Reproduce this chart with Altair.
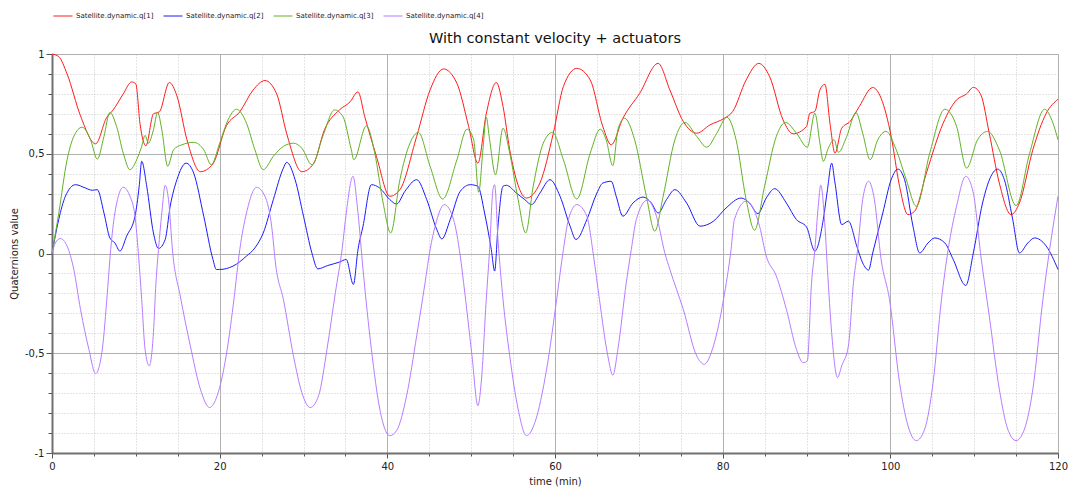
import altair as alt
import pandas as pd

series_names = ["Satellite.dynamic.q[1]", "Satellite.dynamic.q[2]",
                "Satellite.dynamic.q[3]", "Satellite.dynamic.q[4]"]
series_colors = ["#ff1a1a", "#1a1aff", "#62b224", "#b77cff"]

q1_t = [0, 0.8, 1.8, 3.4, 5.2, 6.5, 7.3, 8.5, 9.5, 10.0, 10.5, 11.2, 12.1, 12.8, 14.0, 14.9,
        16.1, 17.7, 19.2, 20.8, 22.4, 24.0, 25.4, 26.8, 28.0, 29.8, 31.2, 32.5, 34.3, 35.55,
        36.5, 37.3, 38.7, 40.3, 41.5, 43.5, 45.1, 46.7, 48.3, 49.7, 50.8, 51.8, 53.0, 53.8,
        54.6, 56.6, 58.2, 59.8, 61.0, 62.6, 64.2, 65.7, 66.7, 68.1, 70.1, 72.3, 73.7, 75.3,
        76.9, 78.5, 80.2, 81.2, 82.8, 84.3, 85.6, 87.2, 88.4, 90.0, 90.4, 91.0, 91.6, 92.2,
        92.8, 93.4, 94.2, 95.2, 96.3, 97.9, 98.9, 100.1, 101.1, 102.1, 102.9, 104.3, 106.3,
        107.9, 109.1, 109.9, 110.8, 111.8, 113.0, 114.4, 115.4, 117.0, 118.6, 120.0]
q1_v = [1.0, 0.987, 0.90, 0.69, 0.55, 0.68, 0.72, 0.80, 0.86, 0.85, 0.65, 0.54, 0.70, 0.71,
        0.857, 0.79, 0.57, 0.41, 0.45, 0.64, 0.71, 0.82, 0.867, 0.80, 0.60, 0.41, 0.45, 0.62,
        0.72, 0.76, 0.81, 0.687, 0.487, 0.287, 0.32, 0.587, 0.82, 0.925, 0.853, 0.637, 0.453,
        0.70, 0.857, 0.737, 0.52, 0.278, 0.353, 0.603, 0.837, 0.928, 0.87, 0.637, 0.545,
        0.678, 0.803, 0.953, 0.82, 0.662, 0.603, 0.645, 0.678, 0.712, 0.87, 0.953, 0.887,
        0.67, 0.60, 0.637, 0.703, 0.712, 0.82, 0.848, 0.653, 0.503, 0.628, 0.662, 0.737,
        0.832, 0.778, 0.587, 0.337, 0.195, 0.212, 0.403, 0.653, 0.77, 0.80, 0.833, 0.795,
        0.603, 0.353, 0.195, 0.253, 0.52, 0.703, 0.773]

q2_t = [0, 0.8, 1.6, 2.8, 4.0, 4.8, 5.4, 6.2, 6.9, 7.5, 8.1, 8.9, 9.9, 10.4, 10.7, 11.3,
        12.1, 12.7, 13.5, 14.1, 14.9, 16.0, 16.9, 18.1, 19.2, 19.6, 20.0, 21.6, 23.2, 24.2,
        25.2, 26.4, 27.6, 28.0, 29.0, 30.0, 31.0, 31.7, 32.9, 34.3, 35.1, 35.95, 36.5, 37.1,
        38.1, 39.1, 40.3, 41.1, 42.1, 43.5, 44.7, 45.9, 46.5, 47.5, 48.7, 49.9, 50.8, 51.6,
        52.4, 52.8, 53.2, 53.8, 54.2, 55.4, 56.4, 57.2, 58.2, 59.4, 60.6, 61.8, 62.5, 63.8,
        65.0, 65.7, 66.7, 67.3, 68.1, 69.3, 70.5, 71.5, 72.3, 73.3, 74.3, 75.7, 77.3, 78.9,
        80.4, 82.2, 83.2, 84.2, 85.2, 86.2, 87.6, 88.8, 90.0, 91.0, 92.0, 92.5, 93.0, 93.4,
        94.2, 95.0, 96.0, 96.7, 97.4, 97.9, 99.1, 100.1, 100.9, 101.7, 102.7, 103.5, 104.5,
        105.3, 106.5, 107.5, 109.0, 109.9, 111.0, 112.0, 112.8, 113.6, 114.6, 115.4, 116.4,
        117.2, 118.6, 120.0]
q2_v = [0, 0.17, 0.287, 0.345, 0.328, 0.317, 0.32, 0.203, 0.078, 0.053, 0.012, 0.087, 0.187,
        0.337, 0.462, 0.337, 0.103, 0.025, 0.07, 0.237, 0.37, 0.453, 0.403, 0.187, -0.03,
        -0.08, -0.08, -0.063, -0.013, 0.028, 0.103, 0.27, 0.428, 0.457, 0.37, 0.187, 0.003,
        -0.077, -0.06, -0.043, -0.03, -0.155, 0.02, 0.137, 0.345, 0.328, 0.27, 0.248, 0.312,
        0.37, 0.27, 0.12, 0.073, 0.17, 0.312, 0.345, 0.337, 0.203, 0.02, -0.088, 0.137, 0.337,
        0.342, 0.303, 0.27, 0.245, 0.303, 0.37, 0.287, 0.137, 0.07, 0.17, 0.303, 0.353, 0.362,
        0.287, 0.187, 0.253, 0.283, 0.253, 0.203, 0.27, 0.32, 0.253, 0.137, 0.162, 0.228,
        0.278, 0.253, 0.20, 0.278, 0.325, 0.253, 0.17, 0.133, 0.012, 0.17, 0.32, 0.453, 0.353,
        0.145, 0.162, 0.037, -0.047, -0.083, 0.003, 0.203, 0.37, 0.423, 0.37, 0.137, 0.003,
        0.053, 0.078, 0.053, -0.03, -0.16, 0.003, 0.253, 0.387, 0.423, 0.37, 0.17, 0.003,
        0.053, 0.078, 0.037, -0.08]

q3_t = [0, 0.8, 1.8, 2.6, 3.6, 4.6, 5.4, 6.2, 6.9, 7.7, 8.5, 9.3, 10.1, 10.7, 11.1, 11.5,
        12.1, 12.6, 13.1, 13.8, 14.5, 15.5, 16.9, 18.1, 19.0, 20.0, 21.0, 22.0, 23.2, 24.2,
        25.2, 26.4, 27.6, 28.8, 29.8, 31.0, 32.3, 33.7, 34.7, 35.7, 36.0, 37.5, 38.5, 39.5,
        40.4, 41.5, 42.7, 43.7, 45.1, 46.6, 48.3, 49.5, 50.3, 50.9, 51.4, 51.8, 52.2, 52.9,
        53.8, 54.6, 55.6, 56.5, 57.4, 58.6, 59.7, 61.0, 62.6, 64.2, 65.4, 66.1, 66.9, 67.5,
        68.3, 69.5, 70.9, 71.9, 72.9, 74.3, 75.5, 76.9, 78.1, 79.3, 80.5, 81.6, 82.8, 83.8,
        85.0, 86.4, 87.5, 88.8, 90.1, 91.0, 91.6, 92.0, 92.6, 93.3, 93.8, 94.8, 95.9, 96.7,
        97.6, 98.5, 99.5, 100.7, 101.9, 103.1, 104.7, 106.5, 107.9, 109.1, 110.4, 111.6,
        113.0, 115.0, 116.6, 118.4, 119.4, 120.0]
q3_v = [0, 0.20, 0.47, 0.587, 0.633, 0.57, 0.473, 0.587, 0.707, 0.637, 0.503, 0.42, 0.47,
        0.537, 0.592, 0.553, 0.62, 0.708, 0.62, 0.437, 0.52, 0.545, 0.557, 0.52, 0.445, 0.553,
        0.67, 0.723, 0.653, 0.52, 0.42, 0.487, 0.537, 0.553, 0.528, 0.445, 0.587, 0.72, 0.687,
        0.52, 0.47, 0.64, 0.503, 0.253, 0.103, 0.37, 0.553, 0.607, 0.437, 0.273, 0.47, 0.623,
        0.57, 0.307, 0.52, 0.683, 0.57, 0.395, 0.628, 0.503, 0.27, 0.103, 0.337, 0.553, 0.607,
        0.47, 0.273, 0.503, 0.623, 0.57, 0.44, 0.62, 0.678, 0.57, 0.287, 0.112, 0.287, 0.57,
        0.657, 0.587, 0.533, 0.603, 0.683, 0.57, 0.27, 0.117, 0.337, 0.587, 0.657, 0.603,
        0.533, 0.703, 0.553, 0.462, 0.528, 0.57, 0.507, 0.587, 0.707, 0.603, 0.47, 0.57, 0.612,
        0.52, 0.37, 0.237, 0.503, 0.723, 0.637, 0.428, 0.57, 0.612, 0.52, 0.24, 0.50, 0.723,
        0.653, 0.57]

q4_t = [0, 0.4, 1.0, 1.8, 2.6, 3.4, 4.4, 5.2, 6.0, 6.6, 7.0, 7.5, 8.5, 9.3, 9.9, 10.3, 10.7,
        11.1, 11.6, 12.1, 12.4, 12.7, 13.1, 13.5, 13.9, 14.4, 15.3, 16.5, 17.7, 18.8, 19.7,
        20.9, 21.7, 22.4, 23.2, 24.4, 25.4, 26.2, 26.7, 27.6, 28.8, 29.8, 30.8, 31.8, 32.8,
        33.8, 34.6, 35.1, 35.9, 36.5, 37.1, 38.1, 39.1, 40.3, 41.1, 42.3, 43.5, 44.5, 45.1,
        45.7, 46.8, 47.9, 48.7, 49.1, 50.1, 50.8, 51.2, 51.8, 52.2, 52.6, 52.8, 53.2, 53.8,
        54.6, 55.6, 56.6, 57.6, 59.0, 60.2, 61.0, 61.6, 62.6, 63.8, 64.6, 65.3, 66.3, 66.9,
        67.5, 68.5, 69.1, 69.7, 71.0, 72.1, 73.1, 73.7, 75.3, 76.9, 77.8, 78.9, 80.1, 81.0,
        81.4, 82.8, 84.4, 85.2, 86.4, 87.6, 88.8, 89.6, 90.1, 90.6, 91.0, 91.4, 91.7, 92.2,
        92.5, 93.0, 93.7, 94.2, 95.0, 95.6, 96.1, 96.7, 97.4, 98.1, 98.9, 99.9, 101.1, 102.1,
        103.1, 104.1, 105.1, 106.1, 106.9, 107.9, 109.0, 109.9, 110.8, 111.8, 113.0, 114.0,
        115.0, 116.0, 117.0, 118.2, 119.0, 120.0]
q4_v = [0, 0.053, 0.075, 0.037, -0.08, -0.28, -0.48, -0.602, -0.48, -0.197, 0.02, 0.203,
        0.332, 0.287, 0.187, 0.003, -0.23, -0.48, -0.563, -0.397, -0.147, 0.02, 0.203, 0.342,
        0.27, 0.003, -0.213, -0.463, -0.68, -0.772, -0.713, -0.48, -0.23, 0.02, 0.203, 0.332,
        0.287, 0.137, -0.063, -0.23, -0.513, -0.697, -0.772, -0.713, -0.48, -0.197, 0.02,
        0.203, 0.387, 0.203, -0.08, -0.48, -0.78, -0.913, -0.888, -0.713, -0.413, -0.147,
        0.02, 0.137, 0.245, 0.17, -0.013, -0.147, -0.513, -0.763, -0.647, -0.23, 0.02, 0.32,
        0.345, 0.07, -0.23, -0.513, -0.78, -0.913, -0.847, -0.58, -0.23, 0.02, 0.17, 0.245,
        0.187, -0.013, -0.23, -0.513, -0.61, -0.48, -0.147, 0.02, 0.17, 0.267, 0.187, 0.003,
        -0.08, -0.28, -0.513, -0.555, -0.463, -0.23, 0.02, 0.17, 0.262, 0.137, -0.013, -0.113,
        -0.28, -0.48, -0.547, -0.538, -0.147, 0.02, 0.237, 0.342, 0.137, -0.08, -0.397,
        -0.622, -0.563, -0.463, -0.147, 0.02, 0.27, 0.362, 0.27, -0.03, -0.23, -0.647, -0.863,
        -0.938, -0.88, -0.647, -0.23, 0.02, 0.237, 0.387, 0.303, -0.013, -0.313, -0.68, -0.88,
        -0.938, -0.88, -0.68, -0.23, 0.02, 0.287]

x_major = [0, 20, 40, 60, 80, 100, 120]
x_minor = list(range(0, 121, 5))
y_major = [-1, -0.5, 0, 0.5, 1]
y_minor = [round(-1 + 0.1 * i, 1) for i in range(21)]

frames = []
for name, ts, vs in zip(series_names, [q1_t, q2_t, q3_t, q4_t], [q1_v, q2_v, q3_v, q4_v]):
    frames.append(pd.DataFrame({"t": ts, "v": vs, "series": name}))
df = pd.concat(frames, ignore_index=True)

FONT = "DejaVu Sans"
y_label_expr = "(datum.value < 0 ? '-' : '') + replace(toString(abs(datum.value)), '.', ',')"

minor = alt.Chart(df).mark_line(strokeOpacity=0).encode(
    x=alt.X("t:Q", scale=alt.Scale(domain=[0, 120], nice=False, zero=False),
            axis=alt.Axis(values=x_minor, orient="bottom", labels=False, domain=False,
                          title=None, grid=True, gridColor="#c8c8c8", gridDash=[1, 2],
                          gridWidth=1, ticks=True, tickSize=3, tickColor="#555555")),
    y=alt.Y("v:Q", scale=alt.Scale(domain=[-1, 1], nice=False),
            axis=alt.Axis(values=y_minor, orient="left", labels=False, domain=False,
                          title=None, grid=True, gridColor="#c8c8c8", gridDash=[1, 2],
                          gridWidth=1, ticks=True, tickSize=4, tickColor="#555555")),
    detail="series:N",
)

lines = alt.Chart(df).mark_line(strokeWidth=1, interpolate="monotone").encode(
    x=alt.X("t:Q", scale=alt.Scale(domain=[0, 120], nice=False, zero=False),
            axis=alt.Axis(values=x_major, orient="bottom", title="time (min)",
                          grid=True, gridColor="#b0b0b0", gridWidth=1, labelFlush=False,
                          domainColor="#707070", domainWidth=2, tickColor="#555555",
                          tickSize=5, labelPadding=3, labelFont=FONT, labelFontSize=10,
                          labelColor="#222222", titleFont=FONT, titleFontSize=10,
                          titleFontWeight="normal", titleColor="#222222", titlePadding=5)),
    y=alt.Y("v:Q", scale=alt.Scale(domain=[-1, 1], nice=False),
            axis=alt.Axis(values=y_major, orient="left", title="Quaternions value",
                          labelExpr=y_label_expr, labelFlush=False,
                          grid=True, gridColor="#b0b0b0", gridWidth=1,
                          domainColor="#707070", domainWidth=2, tickColor="#555555",
                          tickSize=6, labelPadding=2, labelFont=FONT, labelFontSize=10,
                          labelColor="#222222", titleFont=FONT, titleFontSize=10,
                          titleFontWeight="normal", titleColor="#222222", titlePadding=5)),
    color=alt.Color("series:N",
                    scale=alt.Scale(domain=series_names, range=series_colors),
                    legend=alt.Legend(orient="none", direction="horizontal", title=None,
                                      legendX=1, legendY=-48, symbolType="stroke",
                                      symbolSize=361, symbolStrokeWidth=1,
                                      labelFont=FONT, labelFontSize=7, labelColor="#222222",
                                      labelOffset=3, columnPadding=7, padding=0,
                                      labelLimit=200)),
)

chart = alt.layer(minor, lines).resolve_axis(x="independent", y="independent").properties(
    width=1006,
    height=399,
    autosize=alt.AutoSizeParams(type="none"),
    padding={"left": 52, "top": 54, "right": 13, "bottom": 35},
    title=alt.Title("With constant velocity + actuators", font=FONT, fontSize=14.5,
                    fontWeight="normal", color="#111111", anchor="middle", offset=0,
                    dy=40),
).configure_view(stroke="#a8a8a8", strokeWidth=1).configure(background="white")

chart.save("out.html", embed_options={"renderer": "svg", "actions": False})
